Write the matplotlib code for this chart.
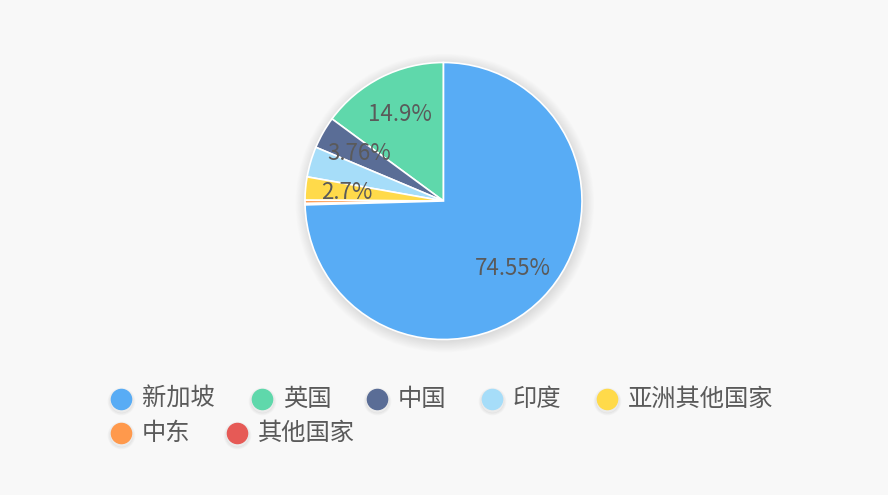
import numpy as np
import matplotlib
matplotlib.use("Agg")
import matplotlib.pyplot as plt
from matplotlib.patches import Circle

plt.rcParams['font.family'] = ['Noto Sans CJK SC', 'DejaVu Sans']

# data (legend order)
names = ['新加坡', '英国', '中国', '印度', '亚洲其他国家', '中东', '其他国家']
values = [74.55, 14.9, 3.76, 3.55, 2.7, 0.38, 0.16]
colors = ['#58acf5', '#5fd8ab', '#5a6d96', '#a6ddf9', '#ffda4a', '#ff994c', '#e65a56']
show_label = [True, True, True, False, True, False, False]

bg = '#f8f8f8'
txt = '#5a5a5a'

fig = plt.figure(figsize=(8.88, 4.95), dpi=100)
fig.patch.set_facecolor(bg)

W, H = 888, 495
cx, cy, r = 443.5, 201, 138.5
ax = fig.add_axes([(cx - r) / W, (H - cy - r) / H, 2 * r / W, 2 * r / H])

# slices: counterclockwise from top, 新加坡 drawn last
order = [1, 2, 3, 4, 5, 6, 0]
vals = [values[i] for i in order]
cols = [colors[i] for i in order]
wedges, _ = ax.pie(vals, colors=cols, startangle=90, counterclock=True,
                   radius=1.0, wedgeprops=dict(edgecolor='white', linewidth=1.2),
                   normalize=True)
for w in wedges:
    w.set_zorder(2)
    w.set_clip_on(False)

ax.set_xlim(-1, 1)
ax.set_ylim(-1, 1)
ax.set_aspect('equal')
ax.axis('off')

# soft shadow under the pie
for i in range(14):
    ax.add_patch(Circle((0.01, -0.015), 1.0 + i * 0.006, color='black',
                        alpha=0.008, lw=0, zorder=0, clip_on=False))

total = sum(vals)
cum = 0
for k, i in enumerate(order):
    a0 = 90 + cum / total * 360
    cum += vals[k]
    a1 = 90 + cum / total * 360
    if not show_label[i]:
        continue
    mid = np.deg2rad((a0 + a1) / 2)
    ax.text(0.7 * np.cos(mid), 0.7 * np.sin(mid), f'{values[i]}%',
            ha='center', va='center', fontsize=16, color=txt, zorder=3,
            fontweight='light')

# legend, drawn by hand in pixel positions
leg_pos = [(121, 399), (262, 399), (377, 399), (492, 399), (607, 399),
           (121, 433), (237, 433)]
for (px, py), name, c in zip(leg_pos, names, colors):
    fx, fy = px / W, 1 - py / H
    for s, a in [(19, 0.02), (17, 0.03)]:
        fig.add_artist(plt.Line2D([fx], [fy - 0.004], marker='o', markersize=s,
                                  color='black', alpha=a, lw=0))
    fig.add_artist(plt.Line2D([fx], [fy], marker='o', markersize=14.5,
                              color=c, lw=0))
    fig.text(fx + 21 / W, fy, name, ha='left', va='center',
             fontsize=17.5, color=txt, fontweight='light')

fig.savefig('out.png', dpi=100, facecolor=bg)
